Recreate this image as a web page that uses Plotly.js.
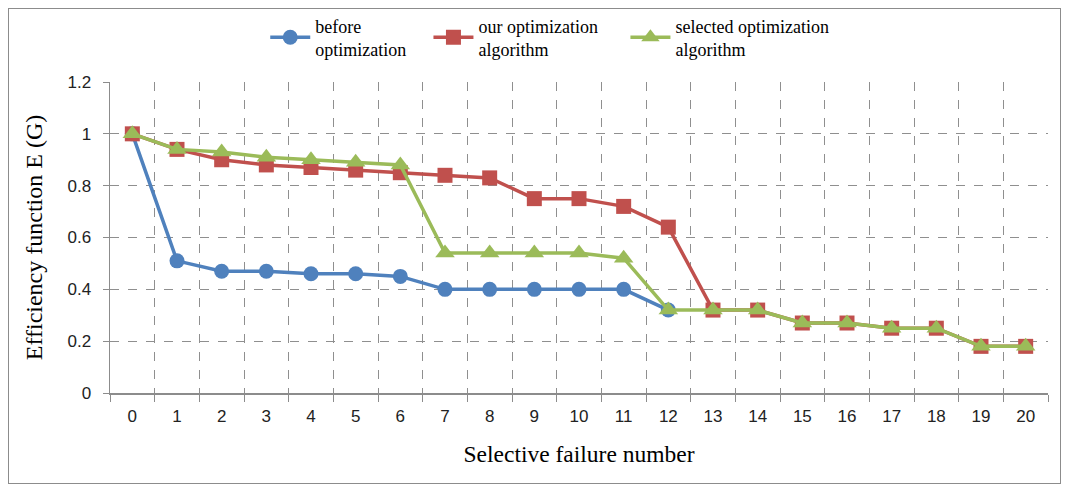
<!DOCTYPE html>
<html><head><meta charset="utf-8">
<script src="https://cdn.plot.ly/plotly-3.0.1.min.js"></script>
<style>
html,body{margin:0;padding:0;background:#fff;}
#frame{position:absolute;left:8px;top:8px;width:1053px;height:476px;border:1px solid #8c8c8c;box-sizing:border-box;}
#chart{position:absolute;left:0;top:0;width:1065px;height:486px;}
</style></head>
<body>
<div id="frame"></div>
<div id="chart"></div>
<script>
const categories = ["0","1","2","3","4","5","6","7","8","9","10","11","12","13","14","15","16","17","18","19","20"];
const beforeCats = categories.slice(0,13);
const beforeVals = [1.0,0.51,0.47,0.47,0.46,0.46,0.45,0.40,0.40,0.40,0.40,0.40,0.32];
const ourVals = [1.0,0.94,0.90,0.88,0.87,0.86,0.85,0.84,0.83,0.75,0.75,0.72,0.64,0.32,0.32,0.27,0.27,0.25,0.25,0.18,0.18];
const selectedVals = [1.0,0.94,0.93,0.91,0.90,0.89,0.88,0.54,0.54,0.54,0.54,0.52,0.32,0.32,0.32,0.27,0.27,0.25,0.25,0.18,0.18];
const names = ["before<br>optimization","our optimization<br>algorithm","selected optimization<br>algorithm"];

const serif = "Liberation Serif, Times New Roman, serif";
const sans = "Liberation Sans, Arial, sans-serif";
const traces = [
  {x:beforeCats,y:beforeVals,name:names[0],mode:"lines+markers",legend:"legend",
   line:{color:"#4F81BD",width:3.5},marker:{symbol:"circle",size:15,color:"#4F81BD"}},
  {x:categories,y:ourVals,name:names[1],mode:"lines+markers",legend:"legend2",
   line:{color:"#C0504D",width:3.5},marker:{symbol:"square",size:15,color:"#C0504D"}},
  {x:categories,y:selectedVals,name:names[2],mode:"lines+markers",legend:"legend3",
   line:{color:"#9BBB59",width:3.5},marker:{symbol:"triangle-up",size:17,color:"#9BBB59"}}
];
function leg(x){
  return {orientation:"h",x:x,xanchor:"left",y:1.24,yanchor:"top",
    font:{family:serif,size:18,color:"#000"},itemwidth:40,bgcolor:"rgba(0,0,0,0)"};
}
const layout = {
  width:1065,height:486,
  margin:{l:110,r:17,t:82,b:93,autoexpand:false},
  paper_bgcolor:"rgba(0,0,0,0)",plot_bgcolor:"#fff",
  font:{family:serif},
  showlegend:true,
  legend:leg(0.1655),legend2:leg(0.3395),legend3:leg(0.5495),
  xaxis:{type:"category",categoryorder:"array",categoryarray:categories,range:[-0.5,20.5],
    tickson:"boundaries",ticks:"outside",ticklen:7,tickcolor:"#8c8c8c",ticklabelstandoff:7,
    showline:true,linecolor:"#8c8c8c",linewidth:1.5,
    showgrid:true,gridcolor:"#8f8f8f",griddash:"dash",gridwidth:1,
    tickfont:{family:sans,size:17,color:"#222"},
    title:{text:"Selective failure number",font:{family:serif,size:23.5,color:"#000"},standoff:20},
    zeroline:false,fixedrange:true},
  yaxis:{range:[0,1.2],dtick:0.2,tick0:0,ticks:"outside",ticklen:6,tickcolor:"#8c8c8c",ticklabelstandoff:8,
    showline:true,linecolor:"#8c8c8c",linewidth:1.5,
    showgrid:true,gridcolor:"#8f8f8f",griddash:"dash",gridwidth:1,
    tickfont:{family:sans,size:17,color:"#222"},
    title:{text:"Efficiency function E (G)",font:{family:serif,size:24,color:"#000"},standoff:18},
    zeroline:false,fixedrange:true}
};
Plotly.newPlot("chart",traces,layout,{displayModeBar:false,staticPlot:true});
</script>
</body></html>
